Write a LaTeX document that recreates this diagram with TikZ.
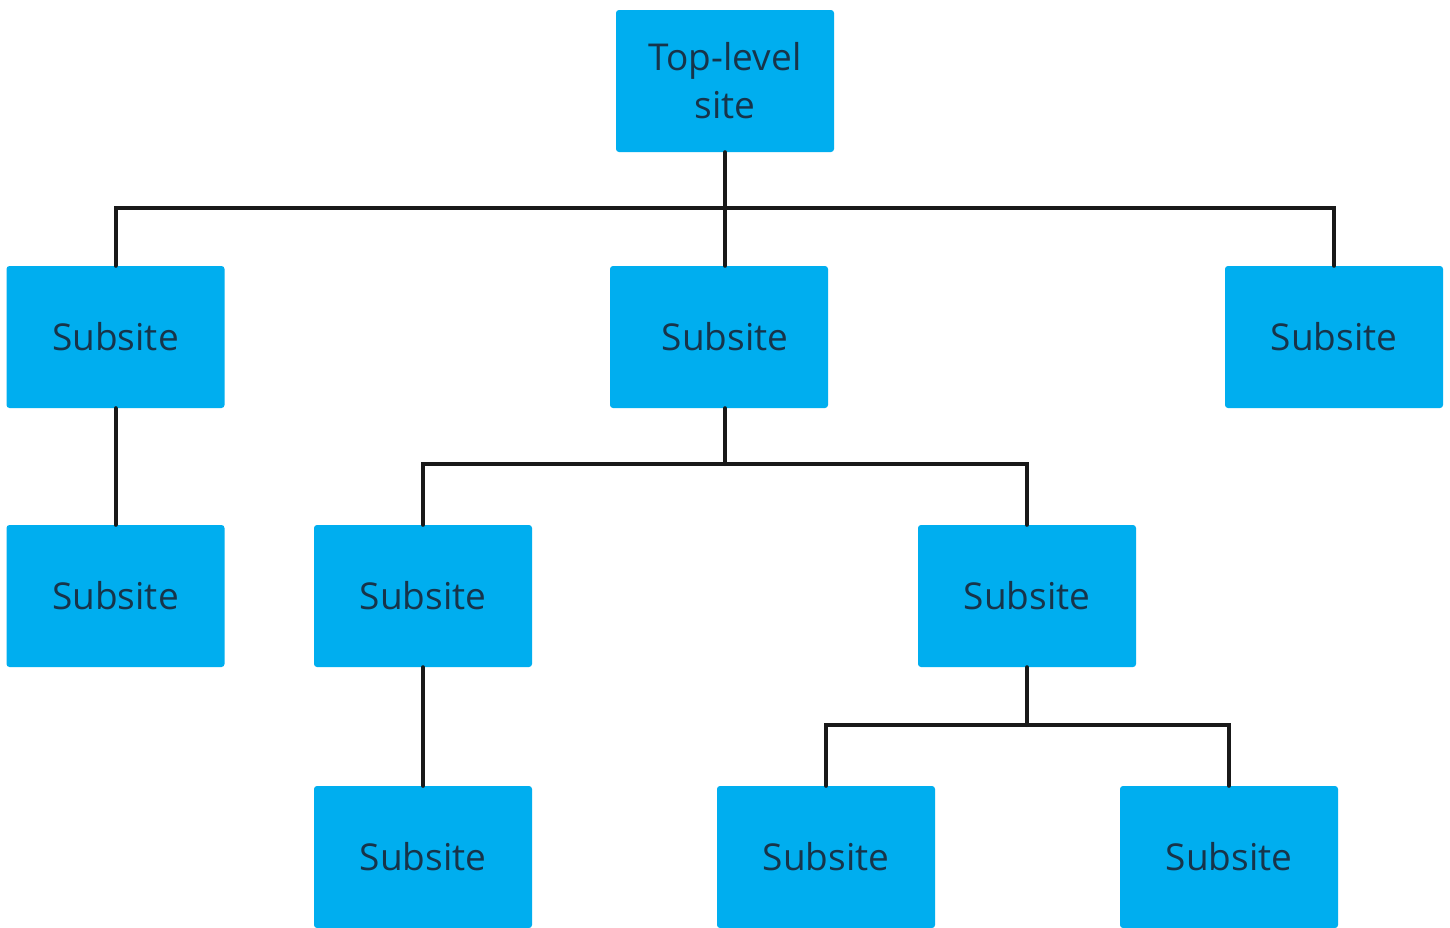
\documentclass[tikz,border=0pt]{standalone}
\usepackage{fontspec}
\setmainfont{Open Sans}
\definecolor{boxblue}{HTML}{00AEEF}
\definecolor{txt}{HTML}{17344A}
\begin{document}
\begin{tikzpicture}[x=1pt,y=-1pt,
  site/.style={fill=boxblue, rounded corners=3pt, minimum width=218pt, minimum height=142pt,
    inner sep=0pt, text=txt, font=\fontsize{37}{48}\selectfont, align=center},
  link/.style={line width=4pt, black!90, line cap=round}]
\useasboundingbox (0,0) rectangle (1450,927);
\clip (0,0) rectangle (1450,927);
\fill[white] (0,0) rectangle (1450,927);
\node[site] (top) at (725,81) {Top-level\\site};
\node[site] (a) at (115.5,337) {Subsite};
\node[site] (b) at (719,337) {\hspace*{12pt}Subsite};
\node[site] (c) at (1334,337) {Subsite};
\node[site] (a1) at (115.5,596) {Subsite};
\node[site] (b1) at (423,596) {Subsite};
\node[site] (b2) at (1027,596) {Subsite};
\node[site] (b11) at (423,857) {Subsite};
\node[site] (b21) at (826,857) {Subsite};
\node[site] (b22) at (1229,857) {Subsite};
\coordinate (j0) at (725,208);
\coordinate (j1) at (725,464);
\coordinate (j2) at (1027,725);
\draw[link] (top.south -| j0) -- (j0);
\draw[link] (a.north) -- (a.north |- j0) -- (c.north |- j0) -- (c.north);
\draw[link] (j0) -- (j0 |- b.north);
\draw[link] (a.south) -- (a1.north);
\draw[link] (j1 |- b.south) -- (j1);
\draw[link] (b1.north) -- (b1.north |- j1) -- (b2.north |- j1) -- (b2.north);
\draw[link] (b1.south) -- (b11.north);
\draw[link] (b2.south) -- (j2);
\draw[link] (b21.north) -- (b21.north |- j2) -- (b22.north |- j2) -- (b22.north);
\end{tikzpicture}
\end{document}
